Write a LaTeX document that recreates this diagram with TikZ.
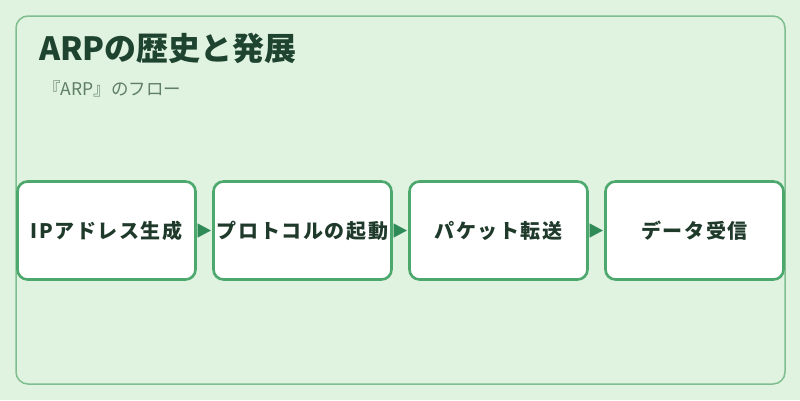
\documentclass[tikz,border=0pt]{standalone}
\usepackage{fontspec}
\newfontfamily\jp{Noto Sans CJK JP}
\newfontfamily\jpsp{Noto Sans CJK JP}[LetterSpace=8]
\usetikzlibrary{arrows.meta}
\definecolor{bg}{HTML}{E0F2E0}
\definecolor{panelline}{HTML}{7FBF8F}
\definecolor{boxline}{HTML}{4CA86C}
\definecolor{arrowc}{HTML}{2E8B57}
\definecolor{titlec}{HTML}{1E4430}
\definecolor{subc}{HTML}{5F7F66}
\definecolor{textc}{HTML}{1F3A2A}
\tikzset{
  stepbox/.style={draw=boxline, line width=2.6pt, fill=white, rounded corners=10pt,
    minimum width=178pt, minimum height=98pt, inner sep=0pt,
    font=\jpsp\bfseries\fontsize{20}{24}\selectfont, text=textc},
  flow/.style={draw=arrowc, line width=0.1pt, -{Triangle[length=13pt,width=14pt,fill=arrowc]}, shorten >=1.5pt, shorten <=1.5pt}
}
\begin{document}
\begin{tikzpicture}[x=1pt,y=-1pt]
\useasboundingbox (0,0) rectangle (800,400);
\fill[bg] (0,0) rectangle (800,400);
\draw[panelline, line width=1.5pt, rounded corners=12pt] (16,16) rectangle (785,384);
\node[anchor=base west, inner sep=0pt, text=titlec, font=\jp\bfseries\fontsize{32}{38}\selectfont] (title) at (39,60) {ARPの歴史と発展};
\node[anchor=base west, inner sep=0pt, text=subc, font=\jp\fontsize{17.5}{21}\selectfont] (sub) at (43,95) {『ARP』のフロー};
\node[stepbox] (b1) at (106.5,230.5) {IPアドレス生成};
\node[stepbox] (b2) at (302.5,230.5) {プロトコルの起動};
\node[stepbox] (b3) at (498.5,230.5) {パケット転送};
\node[stepbox] (b4) at (694.5,230.5) {データ受信};
\draw[flow] (b1.east) -- (b2.west);
\draw[flow] (b2.east) -- (b3.west);
\draw[flow] (b3.east) -- (b4.west);
\end{tikzpicture}
\end{document}
